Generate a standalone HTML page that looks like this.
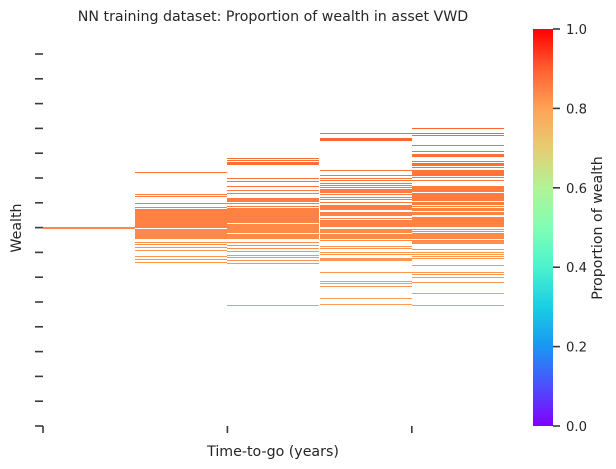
<!DOCTYPE html>
<html><head><meta charset="utf-8"><style>
html,body{margin:0;padding:0;background:#fff;}
svg{display:block;font-family:"DejaVu Sans","Liberation Sans",sans-serif;}
</style></head><body>
<svg id="chart" width="616" height="469" viewBox="0 0 616 469">
<defs>
<linearGradient id="rb" x1="0" y1="1" x2="0" y2="0">
<stop offset="0" stop-color="#8000ff"/><stop offset="0.1" stop-color="#4c4ffc"/><stop offset="0.2" stop-color="#1996f3"/><stop offset="0.3" stop-color="#1acee3"/><stop offset="0.4" stop-color="#4cf2ce"/><stop offset="0.5" stop-color="#80ffb4"/><stop offset="0.6" stop-color="#b2f396"/><stop offset="0.7" stop-color="#e6cd73"/><stop offset="0.8" stop-color="#ffa256"/><stop offset="0.9" stop-color="#ff5f31"/><stop offset="1" stop-color="#ff0000"/>
</linearGradient>
</defs>
<text x="273" y="21" text-anchor="middle" font-size="14.2" fill="#262626">NN training dataset: Proportion of wealth in asset VWD</text>
<text x="273" y="456" text-anchor="middle" font-size="14.2" fill="#262626">Time-to-go (years)</text>
<text transform="translate(21,228) rotate(-90)" text-anchor="middle" font-size="14.2" fill="#262626">Wealth</text>
<g id="plot" shape-rendering="crispEdges"></g>
<g id="axes"></g>
<rect x="533" y="29" width="20" height="397" fill="url(#rb)"/>
<g id="cbticks"></g>
<text transform="translate(602,228) rotate(-90)" text-anchor="middle" font-size="14.2" fill="#262626">Proportion of wealth</text>
</svg>
<script>
// Time-to-go columns
const columns = ["0", "1", "2", "3", "4"];
// Each row: [wealthHigh, wealthLow, proportion]
const col0 = [[199,198,0.82]];
const col1 = [[254,254,0.85],[232,232,0.84],[230,230,0.84],[223,223,0.84],[219,219,0.84],[217,217,0.84],[215,199,0.83],[197,188,0.82],[184,184,0.81],[182,182,0.81],[179,179,0.81],[176,176,0.8],[170,170,0.8],[167,167,0.8],[164,164,0.8]];
const col2 = [[268,268,0.86],[266,266,0.86],[264,262,0.86],[248,248,0.85],[245,245,0.85],[240,240,0.85],[236,236,0.84],[233,233,0.84],[228,225,0.84],[223,223,0.84],[220,220,0.84],[218,204,0.83],[202,194,0.82],[192,188,0.82],[184,184,0.81],[181,181,0.81],[178,178,0.81],[175,175,0.8],[171,171,0.8],[169,169,0.8],[166,166,0.8],[163,163,0.8],[121,121,0.79]];
const col3 = [[293,293,0.87],[288,286,0.87],[256,256,0.85],[251,251,0.85],[248,248,0.85],[246,246,0.85],[243,243,0.85],[241,241,0.85],[239,239,0.84],[237,234,0.84],[232,232,0.84],[229,229,0.84],[227,227,0.84],[224,224,0.84],[221,216,0.84],[213,210,0.83],[208,208,0.83],[206,200,0.83],[197,194,0.82],[192,188,0.82],[186,186,0.82],[180,180,0.81],[178,178,0.81],[174,174,0.8],[172,172,0.8],[168,166,0.8],[154,154,0.8],[145,145,0.8],[143,143,0.8],[140,140,0.8],[128,128,0.79],[122,122,0.79]];
const col4 = [[298,298,0.87],[293,293,0.87],[291,291,0.87],[281,281,0.86],[275,275,0.86],[272,270,0.86],[265,265,0.86],[263,261,0.86],[259,259,0.86],[256,254,0.85],[253,251,0.85],[249,249,0.85],[246,246,0.85],[240,238,0.84],[237,235,0.84],[233,226,0.84],[224,222,0.84],[220,220,0.84],[218,215,0.83],[213,211,0.83],[209,200,0.83],[197,197,0.82],[195,195,0.82],[193,188,0.82],[186,186,0.82],[185,183,0.81],[177,177,0.81],[174,174,0.8],[172,172,0.8],[170,170,0.8],[168,168,0.8],[161,161,0.8],[154,154,0.8],[152,152,0.8],[149,149,0.8],[144,144,0.8],[133,133,0.79],[121,121,0.79]];
const seriesData = [col0, col1, col2, col3, col4];
const yTickValues = [0,24.8,49.6,74.4,99.2,124,148.8,173.6,198.4,223.2,248,272.8,297.6,322.4,347.2,372];
const cbTicks = [0, 0.2, 0.4, 0.6, 0.8, 1.0];
const cbTickLabels = ["0.0","0.2","0.4","0.6","0.8","1.0"];

const NS = "http://www.w3.org/2000/svg";
const plotL = 43, plotR = 504, plotT = 54, plotB = 426;
const yScale = w => plotB - (w / 372) * (plotB - plotT);
const colW = (plotR - plotL) / columns.length;
const xScale = i => plotL + i * colW;
const cbScale = v => 426 - v * (426 - 29);
function rainbow(x){
  const r = Math.min(1, Math.abs(2*x - 0.5));
  const g = Math.sin(Math.PI * x);
  const b = Math.cos(Math.PI * x / 2);
  return `rgb(${Math.round(r*255)},${Math.round(g*255)},${Math.round(b*255)})`;
}
function mk(tag, attrs){ const e = document.createElementNS(NS, tag); for (const k in attrs) e.setAttribute(k, attrs[k]); return e; }

const plot = document.getElementById('plot');
seriesData.forEach((rows, ci) => {
  rows.forEach((row) => {
    const yTop = Math.round(yScale(row[0]) - 0.5);
    const yBot = Math.round(yScale(row[1]) + 0.5);
    const h = Math.max(1, yBot - yTop);
    const r = mk('rect', {x: Math.round(xScale(ci)), y: yTop, width: Math.round(colW), height: h, fill: rainbow(row[2])});
    
    
    plot.appendChild(r);
  });
});

const axes = document.getElementById('axes');
yTickValues.forEach(v => {
  const l = mk('line', {x1: 35, x2: 43, y1: yScale(v), y2: yScale(v), stroke: '#3a3a3a', 'stroke-width': 1.6});
  
  
  axes.appendChild(l);
});
[0, 2, 4].forEach((ci) => {
  const x = xScale(ci);
  const l = mk('line', {x1: x, x2: x, y1: 426, y2: 433, stroke: '#3a3a3a', 'stroke-width': 1.6});
  
  
  axes.appendChild(l);
});

const cbg = document.getElementById('cbticks');
cbTicks.forEach((v, i) => {
  const y = cbScale(v);
  const l = mk('line', {x1: 553, x2: 560, y1: y, y2: y, stroke: '#3a3a3a', 'stroke-width': 1.6});
  
  
  cbg.appendChild(l);
  const t = mk('text', {x: 566, y: y + 5, 'font-size': 13.2, fill: '#262626'});
  t.textContent = cbTickLabels[i];
  
  
  cbg.appendChild(t);
});
</script>
</body></html>
